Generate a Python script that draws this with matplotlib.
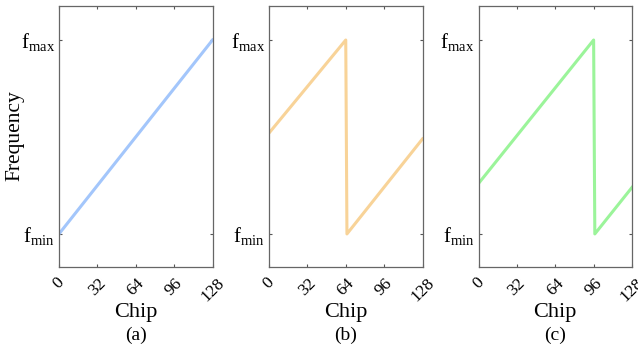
import matplotlib
matplotlib.use("Agg")
import matplotlib.pyplot as plt

plt.rcParams['font.family'] = ['Liberation Serif', 'DejaVu Serif']
plt.rcParams['mathtext.fontset'] = 'custom'
plt.rcParams['mathtext.rm'] = 'Liberation Serif'

# chirp frequency (normalised: 0 = f_min, 1 = f_max) at the corner chips
chips_a = [0, 128]
freq_a = [0.0, 1.0]
chips_b = [0, 64, 65, 128]
freq_b = [0.52, 1.0, 0.0, 0.49]
chips_c = [0, 96, 97, 128]
freq_c = [0.26, 1.0, 0.0, 0.24]

xticks = [0, 32, 64, 96, 128]
yticks = [0, 1]
ytick_labels = [r'f$_{\mathrm{min}}$', r'f$_{\mathrm{max}}$']
panels = ['(a)', '(b)', '(c)']
colors = ['#a3c6fb', '#f8d398', '#9bf49a']

fig = plt.figure(figsize=(6.38, 3.52), dpi=100)
lefts = [59 / 638, 269 / 638, 478.5 / 638]
series = [(chips_a, freq_a), (chips_b, freq_b), (chips_c, freq_c)]

for i, (x, y) in enumerate(series):
    ax = fig.add_axes([lefts[i], 85.5 / 352, 153.5 / 638, 261 / 352])
    ax.plot(x, y, color=colors[i], lw=2.2)
    ax.set_xlim(0, 128)
    ax.set_ylim(-0.168, 1.178)
    ax.set_xticks(xticks)
    ax.set_xticklabels([str(t) for t in xticks], rotation=45, ha='center',
                       va='top', fontsize=12.5)
    ax.set_yticks(yticks)
    ax.set_yticklabels(ytick_labels, fontsize=15)
    ax.tick_params(direction='in', length=2.5, width=0.8, color='#555555',
                   top=True, right=True, pad=3)
    ax.tick_params(axis='x', pad=6)
    for s in ax.spines.values():
        s.set_color('#666666')
        s.set_linewidth(0.9)
    ax.set_xlabel('Chip', fontsize=16, labelpad=-1)
    ax.text(0.5, -0.262, panels[i], transform=ax.transAxes, ha='center',
            va='center', fontsize=14)
    if i == 0:
        ax.set_ylabel('Frequency', fontsize=15.5, labelpad=-3)

fig.savefig('out.png', dpi=100)
